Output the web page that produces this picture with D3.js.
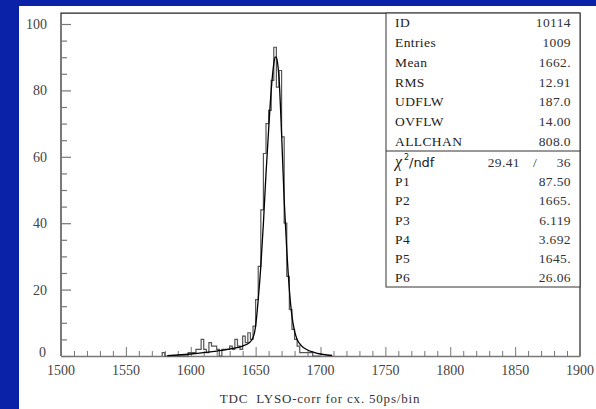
<!DOCTYPE html>
<html><head><meta charset="utf-8">
<script src="https://cdn.jsdelivr.net/npm/d3@7"></script>
<style>body{margin:0;padding:0;overflow:hidden;background:#0a22a8}</style>
</head><body>
<svg id="c" width="596" height="409"></svg>
<script>
// ---- data ----
const binStarts = [1578,1580,1582,1584,1586,1588,1590,1592,1594,1596,1598,1600,1602,1604,1606,1608,1610,1612,1614,1616,1618,1620,1622,1624,1626,1628,1630,1632,1634,1636,1638,1640,1642,1644,1646,1648,1650,1652,1654,1656,1658,1660,1662,1664,1666,1668,1670,1672,1674,1676,1678,1680,1682,1684,1686,1688,1690,1692,1694,1696,1698];
const counts    = [1,0,0,0,0,0,0,0,0,0,1,1,1,2,2,5,2,1,4,3,3,2,0,2,2,2,3,2,5,3,2,6,4,7,5,9,17,27,44,61,70,74,83,93,81,86,66,40,24,14,8,5,3,1,1,1,1,1,0,0,0];
const binWidth = 2;
const fitX = [1582,1590,1600,1610,1620,1630,1640,1645,1648,1650,1652,1654,1656,1658,1660,1662,1664,1665,1666,1667,1668,1670,1672,1674,1676,1678,1680,1682,1685,1690,1695,1700,1705,1709];
const fitY = [0.1,0.3,0.6,1.0,1.5,2.1,3.0,4.0,5.5,9,17,27,40,55,68,80,88,90,90,88,84,67,47,32,20,12,7.5,5,3.2,1.8,1.1,0.6,0.3,0.15];
const xTicks = [1500,1550,1600,1650,1700,1750,1800,1850,1900];
const yTicks = [0,20,40,60,80,100];
const statLabels = ["ID","Entries","Mean","RMS","UDFLW","OVFLW","ALLCHAN"];
const statValues = ["10114","1009","1662.","12.91","187.0","14.00","808.0"];
const chi2Value = "29.41", ndfValue = "36";
const parLabels = ["P1","P2","P3","P4","P5","P6"];
const parValues = ["87.50","1665.","6.119","3.692","1645.","26.06"];
const xTitle = "TDC  LYSO-corr for cx. 50ps/bin";

// ---- drawing ----
const svg = d3.select("#c");
svg.append("rect").attr("x",0).attr("y",0).attr("width",596).attr("height",409).attr("fill","#0a22a8");
svg.append("rect").attr("x",19).attr("y",6).attr("width",577).attr("height",403).attr("fill","#ffffff");

const x = d3.scaleLinear().domain([1500,1900]).range([61,580]);
const y = d3.scaleLinear().domain([0,100]).range([356,24]);
const yTop = y(103.3);
const serif = "'Liberation Serif','DejaVu Serif',serif";

// frame
svg.append("path")
  .attr("d",`M${x(1500)},${y(0)}V${yTop}H${x(1900)}V${y(0)}`)
  .attr("fill","none").attr("stroke","#222").attr("stroke-width",1.2);

// x axis
const xAxis = d3.axisTop(x).tickValues(d3.range(1500,1901,10)).tickFormat("")
  .tickSize(0).tickSizeOuter(0);
const gx = svg.append("g").attr("transform",`translate(0,${y(0)})`).call(xAxis);
gx.select(".domain").attr("stroke","#777").attr("stroke-width",1.5);
gx.selectAll(".tick line").attr("stroke","#777")
  .attr("y2", d => (d % 50 === 0) ? -9 : -5);
svg.append("g").selectAll("text").data(xTicks).join("text")
  .attr("x", d => x(d)).attr("y", y(0)+19)
  .attr("text-anchor","middle").attr("font-family",serif).attr("font-size",14)
  .attr("fill","#444").text(d => d);

// y axis
const yAxis = d3.axisRight(y).tickValues(d3.range(0,101,5)).tickFormat("").tickSize(0).tickSizeOuter(0);
const gy = svg.append("g").attr("transform",`translate(${x(1500)},0)`).call(yAxis);
gy.select(".domain").remove();
gy.selectAll(".tick line").attr("stroke","#777").attr("stroke-width",1.2)
  .attr("x2", d => (d % 20 === 0) ? 10 : 6);
svg.append("g").selectAll("text").data(yTicks).join("text")
  .attr("x", d => d === 0 ? 46 : 47).attr("y", d => y(d) + (d===0 ? 1 : 5))
  .attr("text-anchor","end").attr("font-family",serif).attr("font-size",14)
  .attr("fill","#444").text(d => d);

// histogram outline
let pts = [[x(binStarts[0]), y(0)]];
binStarts.forEach((b,i) => {
  pts.push([x(b), y(counts[i])]);
  pts.push([x(b+binWidth), y(counts[i])]);
});
pts.push([x(binStarts[binStarts.length-1]+binWidth), y(0)]);
svg.append("path").attr("d", d3.line()(pts))
  .attr("fill","none").attr("stroke","#555").attr("stroke-width",1.2);

// fit curve
svg.append("path")
  .attr("d", d3.line().x((d,i)=>x(fitX[i])).y((d,i)=>y(fitY[i])).curve(d3.curveMonotoneX)(fitX))
  .attr("fill","none").attr("stroke","#000").attr("stroke-width",1.3);

// stats box
const bx0 = 386, bx1 = x(1900), by0 = yTop, by1 = 287, bdiv = 151;
svg.append("rect").attr("x",bx0).attr("y",by0).attr("width",bx1-bx0).attr("height",by1-by0)
  .attr("fill","#fff").attr("stroke","#333").attr("stroke-width",1);
svg.append("line").attr("x1",bx0).attr("x2",bx1).attr("y1",bdiv).attr("y2",bdiv).attr("stroke","#333");
const lx = 395, rx = 571, fs = 13.5, ls = 0.4;
const statY = d3.scaleLinear().domain([0,6]).range([27,146]);
svg.append("g").selectAll("text").data(statLabels).join("text")
  .attr("x",lx).attr("y",(d,i)=>statY(i)).attr("font-family",serif).attr("font-size",fs)
  .attr("letter-spacing",ls).attr("fill","#222").text(d=>d);
svg.append("g").selectAll("text").data(statValues).join("text")
  .attr("x",rx).attr("y",(d,i)=>statY(i)).attr("text-anchor","end").attr("font-family",serif).attr("font-size",fs)
  .attr("letter-spacing",ls).attr("fill","#333").text(d=>d);
const parY = d3.scaleLinear().domain([0,6]).range([167,282]);
svg.append("text").attr("x",lx).attr("y",parY(0)).attr("font-family",serif).attr("font-style","italic")
  .attr("font-size",16).attr("fill","#222").text("χ");
svg.append("text").attr("x",lx+9).attr("y",parY(0)-7).attr("font-family","'DejaVu Sans',sans-serif")
  .attr("font-size",8).attr("fill","#222").text("2");
svg.append("text").attr("x",lx+14).attr("y",parY(0)).attr("font-family","'DejaVu Sans',sans-serif")
  .attr("font-size",13).attr("fill","#222").text("/ndf");
svg.append("text").attr("x",520).attr("y",parY(0)).attr("text-anchor","end").attr("font-family",serif)
  .attr("font-size",fs).attr("letter-spacing",ls).attr("fill","#333").text(chi2Value);
svg.append("text").attr("x",535).attr("y",parY(0)).attr("text-anchor","middle").attr("font-family",serif)
  .attr("font-size",fs).attr("fill","#333").text("/");
svg.append("text").attr("x",rx).attr("y",parY(0)).attr("text-anchor","end").attr("font-family",serif)
  .attr("font-size",fs).attr("letter-spacing",ls).attr("fill","#333").text(ndfValue);
svg.append("g").selectAll("text").data(parLabels).join("text")
  .attr("x",lx).attr("y",(d,i)=>parY(i+1)).attr("font-family",serif).attr("font-size",fs)
  .attr("letter-spacing",ls).attr("fill","#222").text(d=>d);
svg.append("g").selectAll("text").data(parValues).join("text")
  .attr("x",rx).attr("y",(d,i)=>parY(i+1)).attr("text-anchor","end").attr("font-family",serif).attr("font-size",fs)
  .attr("letter-spacing",ls).attr("fill","#333").text(d=>d);

// x title
svg.append("text").attr("x",320).attr("y",403).attr("text-anchor","middle")
  .attr("font-family",serif).attr("font-size",13).attr("letter-spacing",0.8).attr("fill","#333")
  .style("white-space","pre").text(xTitle);
</script>
</body></html>
